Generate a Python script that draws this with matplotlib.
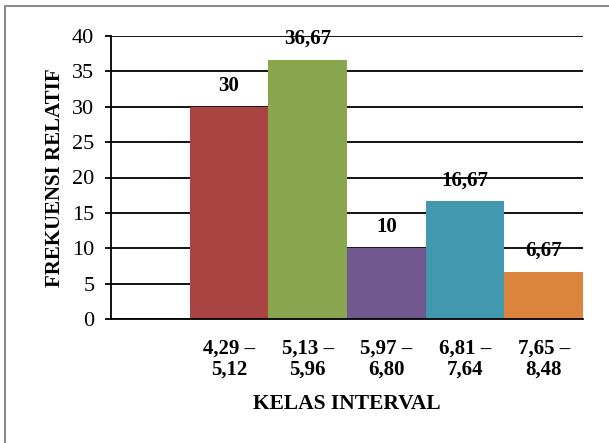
import matplotlib
matplotlib.use("Agg")
import matplotlib.pyplot as plt
from matplotlib.patches import Rectangle

categories = ["4,29 –\n5,12", "5,13 –\n5,96", "5,97 –\n6,80", "6,81 –\n7,64", "7,65 –\n8,48"]
values = [30, 36.67, 10, 16.67, 6.67]
value_labels = ["30", "36,67", "10", "16,67", "6,67"]
colors = ["#A94442", "#89A54E", "#71588F", "#4198AF", "#DB843D"]
yticks = [0, 5, 10, 15, 20, 25, 30, 35, 40]

plt.rcParams['font.family'] = ['Liberation Serif', 'DejaVu Serif']

W, H = 609, 443
fig = plt.figure(figsize=(W/100, H/100), dpi=100)
ax = fig.add_axes([111/W, 1-319/H, (583-111)/W, (319-36)/H])

x = list(range(1, len(values)+1))
ax.bar(x, values, width=1.0, color=colors, zorder=2)
for xi, v, lab in zip(x, values, value_labels):
    ax.annotate(lab, (xi, v), xytext=(0, 15), textcoords='offset points',
                ha='center', va='center', fontsize=15, fontweight='bold', zorder=4)

ax.set_xlim(-0.5, 5.5)
ax.set_ylim(0, 40)
ax.set_yticks(yticks)
ax.set_yticklabels([str(t) for t in yticks], fontsize=16)
ax.set_xticks(x)
ax.set_xticklabels(categories, fontsize=15, fontweight='bold', linespacing=1.1)
ax.tick_params(axis='x', length=0, pad=14)
ax.tick_params(axis='y', length=4.5, width=1.3, pad=7.5, direction='out')
ax.yaxis.grid(True, color='black', linewidth=1.3)
ax.set_axisbelow(True)
for s in ['top', 'right']:
    ax.spines[s].set_visible(False)
ax.spines['left'].set_linewidth(1.3)
ax.spines['bottom'].set_linewidth(1.3)
ax.set_ylabel("FREKUENSI RELATIF", fontsize=15, fontweight='bold', labelpad=5)
ax.set_xlabel("KELAS INTERVAL", fontsize=15.5, fontweight='bold', labelpad=10)

fig.patches.append(Rectangle((5/W, -0.1), 1.2, 1.1 - 6/H, transform=fig.transFigure,
                             fill=False, edgecolor='#8c8c8c', linewidth=1.5))

fig.savefig("out.png", dpi=100)
